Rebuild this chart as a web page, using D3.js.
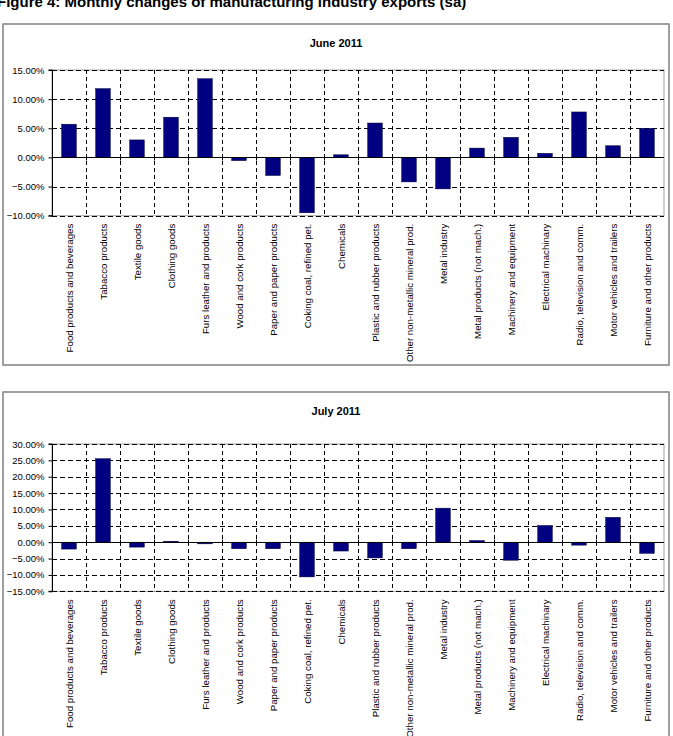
<!DOCTYPE html>
<html>
<head>
<meta charset="utf-8">
<script src="https://cdn.jsdelivr.net/npm/d3@7"></script>
<style>
  html, body { margin: 0; padding: 0; background: #fff; }
  svg { display: block; font-family: "Liberation Sans", Arial, sans-serif; }
</style>
</head>
<body>
<svg id="chart" width="673" height="736"></svg>
<script>
// ---------------- DATA ----------------
const categories = [
  "Food products and beverages",
  "Tabacco products",
  "Textile goods",
  "Clothing goods",
  "Furs leather and products",
  "Wood and cork products",
  "Paper and paper products",
  "Coking coal, refined pet.",
  "Chemicals",
  "Plastic and rubber products",
  "Other non-metallic mineral prod.",
  "Metal industry",
  "Metal products (not mach.)",
  "Machinery and equipment",
  "Electrical machinary",
  "Radio, television and comm.",
  "Motor vehicles and trailers",
  "Furniture and other products"
];
const juneValues = [5.7, 11.8, 3.0, 6.9, 13.5, -0.55, -3.1, -9.5, 0.45, 5.9, -4.2, -5.4, 1.6, 3.45, 0.7, 7.8, 2.0, 5.0];
const julyValues = [-2.1, 25.5, -1.5, 0.3, -0.5, -2.0, -2.0, -10.6, -2.7, -4.8, -2.0, 10.4, 0.5, -5.5, 5.1, -0.9, 7.6, -3.4];
const juneTicks = [-10, -5, 0, 5, 10, 15];
const julyTicks = [-15, -10, -5, 0, 5, 10, 15, 20, 25, 30];
const figureTitle = "Figure 4: Monthly changes of manufacturing industry exports (sa)";
const juneTitle = "June 2011";
const julyTitle = "July 2011";

// ---------------- DRAWING ----------------
const svg = d3.select("#chart");
const fmt = v => d3.format(".2f")(v) + "%";

svg.append("text")
  .attr("x", -3).attr("y", 6.5)
  .attr("font-size", 15).attr("font-weight", "bold")
  .attr("fill", "#000")
  .text(figureTitle);

function drawPanel(opts) {
  const g = svg.append("g");
  const [bx0, by0, bx1, by1] = opts.box;
  g.append("rect")
    .attr("x", bx0).attr("y", by0)
    .attr("width", bx1 - bx0).attr("height", by1 - by0)
    .attr("fill", "#fff").attr("stroke", "#808080").attr("stroke-width", 1.5);

  g.append("text")
    .attr("x", (bx0 + bx1) / 2).attr("y", opts.titleY)
    .attr("text-anchor", "middle")
    .attr("font-size", 11).attr("font-weight", "bold")
    .text(opts.title);

  const x = d3.scaleBand().domain(categories).range([opts.x0, opts.x1]).padding(0);
  const y = d3.scaleLinear().domain(d3.extent(opts.ticks)).range([opts.yBot, opts.yTop]);

  // plot border
  g.append("rect")
    .attr("x", opts.x0).attr("y", opts.yTop)
    .attr("width", opts.x1 - opts.x0).attr("height", opts.yBot - opts.yTop)
    .attr("fill", "none").attr("stroke", "#a0a0a0").attr("stroke-width", 1);

  // horizontal grid
  g.selectAll(".hg").data(opts.ticks.filter(t => t !== 0)).enter().append("line")
    .attr("x1", opts.x0).attr("x2", opts.x1)
    .attr("y1", d => Math.round(y(d)) + 0.5).attr("y2", d => Math.round(y(d)) + 0.5)
    .attr("stroke", "#000").attr("stroke-width", 1).attr("stroke-dasharray", "5,3");

  // vertical grid at band boundaries
  g.selectAll(".vg").data(categories.slice(1)).enter().append("line")
    .attr("x1", d => Math.round(x(d)) + 0.5).attr("x2", d => Math.round(x(d)) + 0.5)
    .attr("y1", opts.yTop).attr("y2", opts.yBot)
    .attr("stroke", "#000").attr("stroke-width", 1).attr("stroke-dasharray", "4,3");

  // bars
  const bw = x.bandwidth() * 0.43;
  g.selectAll(".bar").data(opts.values).enter().append("rect")
    .attr("x", (d, i) => x(categories[i]) + (x.bandwidth() - bw) / 2)
    .attr("y", d => y(Math.max(0, d)))
    .attr("width", bw)
    .attr("height", d => Math.abs(y(d) - y(0)))
    .attr("fill", "#000080").attr("stroke", "#000033").attr("stroke-width", 0.5);

  // zero axis line
  const y0 = Math.round(y(0)) + 0.5;
  g.append("line")
    .attr("x1", opts.x0).attr("x2", opts.x1)
    .attr("y1", y0).attr("y2", y0)
    .attr("stroke", "#000").attr("stroke-width", 1);
  g.selectAll(".xt").data(categories.slice(1)).enter().append("line")
    .attr("x1", d => Math.round(x(d)) + 0.5).attr("x2", d => Math.round(x(d)) + 0.5)
    .attr("y1", y0 - 3).attr("y2", y0 + 3)
    .attr("stroke", "#000");

  // y axis
  const yAxis = d3.axisLeft(y).tickValues(opts.ticks).tickFormat(fmt).tickSize(4).tickPadding(4);
  const ya = g.append("g").attr("transform", `translate(${opts.x0 + 0.5},0)`).call(yAxis);
  ya.select(".domain").attr("stroke", "#000").attr("d", `M-4,${opts.yTop}H0V${opts.yBot}H-4`);
  ya.selectAll(".tick line").attr("stroke", "#000");
  ya.selectAll(".tick text")
    .attr("font-family", "'Liberation Sans', Arial, sans-serif")
    .attr("font-size", 9.5).attr("fill", "#000");

  // category labels (low position, rotated)
  g.selectAll(".cl").data(categories).enter().append("text")
    .attr("transform", d => `translate(${x(d) + x.bandwidth() / 2 + 3.5},${opts.yBot + 8}) rotate(-90)`)
    .attr("text-anchor", "end")
    .attr("font-size", 9.7).attr("fill", "#000")
    .text(d => d);
}

drawPanel({
  box: [3, 24, 669, 365], title: juneTitle, titleY: 46.5,
  x0: 52, x1: 664, yTop: 70, yBot: 215.7,
  ticks: juneTicks, values: juneValues
});
drawPanel({
  box: [3, 392, 669, 800], title: julyTitle, titleY: 414.5,
  x0: 52, x1: 664, yTop: 444, yBot: 591.3,
  ticks: julyTicks, values: julyValues
});
</script>
</body>
</html>
